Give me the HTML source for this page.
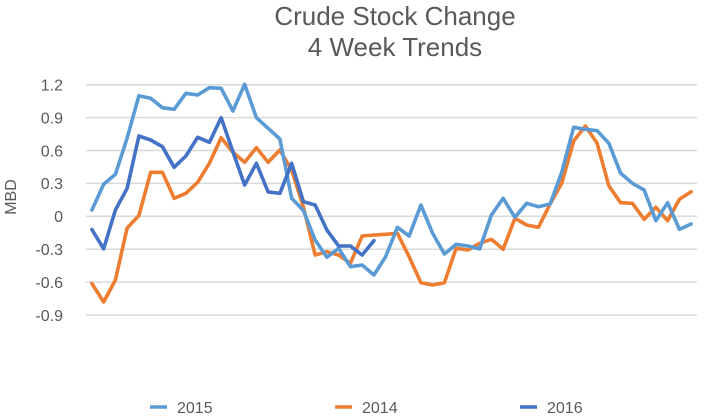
<!DOCTYPE html>
<html><head><meta charset="utf-8"><style>
html,body{margin:0;padding:0;background:#fff;}
svg{display:block;font-family:"Liberation Sans",sans-serif;}
</style></head><body>
<svg width="708" height="416" viewBox="0 0 708 416" xmlns="http://www.w3.org/2000/svg">
<rect width="708" height="416" fill="#fff"/>
<text x="395" y="25" font-size="26" fill="#595959" text-anchor="middle">Crude Stock Change</text>
<text x="395" y="56" font-size="26" fill="#595959" text-anchor="middle">4 Week Trends</text>
<g stroke="#D9D9D9" stroke-width="1.5">
<line x1="86" x2="697" y1="84.7" y2="84.7"/>
<line x1="86" x2="697" y1="117.6" y2="117.6"/>
<line x1="86" x2="697" y1="150.5" y2="150.5"/>
<line x1="86" x2="697" y1="183.4" y2="183.4"/>
<line x1="86" x2="697" y1="216.3" y2="216.3"/>
<line x1="86" x2="697" y1="249.2" y2="249.2"/>
<line x1="86" x2="697" y1="282.1" y2="282.1"/>
<line x1="86" x2="697" y1="315" y2="315"/>
</g>
<g font-size="16" fill="#595959" text-anchor="end">
<text x="63" y="90.5">1.2</text>
<text x="63" y="123.4">0.9</text>
<text x="63" y="156.3">0.6</text>
<text x="63" y="189.2">0.3</text>
<text x="63" y="222.1">0</text>
<text x="63" y="255">-0.3</text>
<text x="63" y="287.9">-0.6</text>
<text x="63" y="320.8">-0.9</text>
</g>
<text transform="translate(16,197) rotate(-90)" font-size="16" fill="#595959" text-anchor="middle">MBD</text>
<g fill="none" stroke-width="3.6" stroke-linejoin="round" stroke-linecap="round">
<polyline stroke="#ED7D31" points="91.9,283.5 103.65,302 115.4,280 127.15,228 138.9,215.5 150.65,172.3 162.4,172.3 174.15,198.3 185.9,193.3 197.65,182.3 209.4,163.3 221.15,137.7 232.9,152.3 244.65,162.3 256.4,147.7 268.15,162.3 279.9,150 291.65,170 303.4,207 315.15,255 326.9,251.7 338.65,255 350.4,263.3 362.15,236 373.9,235 385.65,234.3 397.4,233.3 409.15,256.7 420.9,282.7 432.65,285 444.4,282.7 456.15,248.3 467.9,250 479.65,243.3 491.4,239.3 503.15,249.3 514.9,218.3 526.65,225 538.4,227.3 550.15,204 561.9,182.7 573.65,141 585.4,126 597.15,143.3 608.9,186 620.65,202.7 632.4,203.3 644.15,219.3 655.9,207.3 667.65,220.7 679.4,199.3 691.15,191.7"/>
<polyline stroke="#5B9BD5" points="91.9,210 103.65,184.3 115.4,174.3 127.15,138 138.9,95.7 150.65,98.3 162.4,107.7 174.15,109.3 185.9,93.3 197.65,95 209.4,87.7 221.15,88.3 232.9,111 244.65,84.3 256.4,117.7 268.15,128.3 279.9,139 291.65,198.3 303.4,210.5 315.15,240 326.9,257.3 338.65,248.3 350.4,266.7 362.15,265 373.9,275 385.65,256.7 397.4,227.3 409.15,236 420.9,205 432.65,233.3 444.4,254 456.15,244.3 467.9,246 479.65,249 491.4,215 503.15,198.3 514.9,217.3 526.65,203.3 538.4,206.7 550.15,204 561.9,171.7 573.65,127.3 585.4,129.3 597.15,130.7 608.9,143.3 620.65,173.3 632.4,183.3 644.15,190 655.9,220.7 667.65,202.7 679.4,229.3 691.15,224"/>
<polyline stroke="#4472C4" points="91.9,229.5 103.65,248.8 115.4,210 127.15,188.3 138.9,136 150.65,140 162.4,146.7 174.15,167.3 185.9,156 197.65,137.3 209.4,142.3 221.15,117.7 232.9,151.7 244.65,185 256.4,163.3 268.15,192 279.9,193.3 291.65,163.3 303.4,201.7 315.15,205 326.9,230 338.65,246 350.4,246 362.15,255 373.9,240.7"/>
</g>
<g stroke-width="3.5">
<line x1="150" x2="167" y1="407" y2="407" stroke="#5B9BD5"/>
<line x1="335" x2="352" y1="407" y2="407" stroke="#ED7D31"/>
<line x1="520" x2="537" y1="407" y2="407" stroke="#4472C4"/>
</g>
<g font-size="16" fill="#595959">
<text x="177" y="413">2015</text>
<text x="362" y="413">2014</text>
<text x="547" y="413">2016</text>
</g>
</svg>
</body></html>
